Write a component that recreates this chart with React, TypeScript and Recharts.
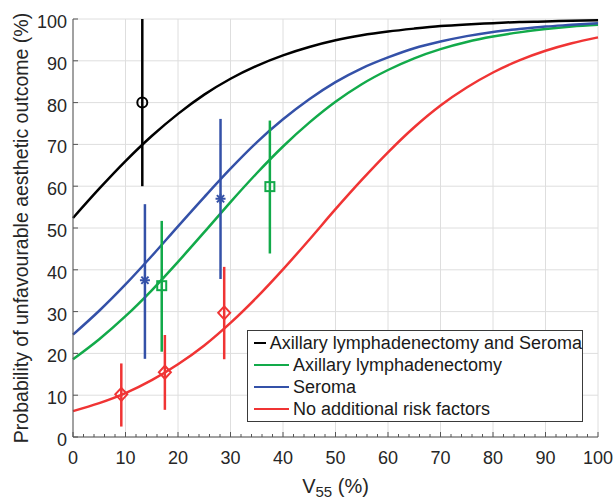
import {
  CartesianGrid,
  ComposedChart,
  ErrorBar,
  Legend,
  Line,
  Scatter,
  XAxis,
  YAxis,
} from "recharts";

// V55 (%) sample positions for the fitted curves
const xValues = [0, 5, 10, 15, 20, 25, 30, 35, 40, 45, 50, 55, 60, 65, 70, 75, 80, 85, 90, 95, 100];

// probability (%)
const blackCurve = [52.4, 59.4, 66.0, 72.0, 77.3, 81.9, 85.7, 88.8, 91.3, 93.3, 94.9, 96.1, 97.0, 97.7, 98.3, 98.7, 99.0, 99.3, 99.4, 99.6, 99.7];
const greenCurve = [18.6, 23.4, 28.9, 35.1, 41.9, 49.0, 56.2, 63.1, 69.5, 75.2, 80.2, 84.4, 87.8, 90.6, 92.8, 94.5, 95.8, 96.8, 97.6, 98.2, 98.6];
const blueCurve = [24.5, 30.2, 36.5, 43.3, 50.4, 57.4, 64.2, 70.5, 76.0, 80.8, 84.9, 88.2, 90.8, 93.0, 94.6, 95.9, 96.9, 97.6, 98.2, 98.6, 99.0];
const redCurve = [6.2, 8.1, 10.5, 13.6, 17.4, 21.9, 27.3, 33.4, 40.1, 47.2, 54.5, 61.5, 68.1, 74.1, 79.3, 83.6, 87.2, 90.1, 92.4, 94.2, 95.6];

// observed groups with [lower, upper] error
const blackPoints = [{ x: 13.2, y: 80.0, err: [20, 20] }];
const greenPoints = [
  { x: 16.9, y: 36.2, err: [15.8, 15.5] },
  { x: 37.5, y: 59.9, err: [16.0, 15.8] },
];
const bluePoints = [
  { x: 13.7, y: 37.5, err: [18.8, 18.2] },
  { x: 28.1, y: 57.0, err: [19.2, 19.1] },
];
const redPoints = [
  { x: 9.2, y: 10.2, err: [7.7, 7.4] },
  { x: 17.5, y: 15.5, err: [9.0, 8.9] },
  { x: 28.8, y: 29.7, err: [11.1, 11.0] },
];

const majorTicks = [0, 10, 20, 30, 40, 50, 60, 70, 80, 90, 100];
const minorTicks = Array.from({ length: 51 }, (_, i) => i * 2);

const legendNames = [
  "Axillary lymphadenectomy and Seroma",
  "Axillary lymphadenectomy",
  "Seroma",
  "No additional risk factors",
];

const BLACK = "#000000";
const GREEN = "#12aa4a";
const BLUE = "#3451a8";
const RED = "#f03434";
const legendColors = [BLACK, GREEN, BLUE, RED];

const AXIS = "#555555";
const TEXT = "#262626";
const FONT = '"Liberation Sans", Arial, sans-serif';

const curveData = xValues.map((x, i) => ({
  x,
  black: blackCurve[i],
  green: greenCurve[i],
  blue: blueCurve[i],
  red: redCurve[i],
}));

const BottomTick = (props: any) => {
  const { x, y, payload } = props;
  const major = payload.value % 10 === 0;
  return (
    <g>
      <line x1={x} x2={x} y1={y} y2={y - (major ? 5 : 3)} stroke={AXIS} />
      {major && (
        <text x={x} y={y + 27} textAnchor="middle" fontSize={18} fontFamily={FONT} fill={TEXT}>
          {payload.value}
        </text>
      )}
    </g>
  );
};

const TopTick = (props: any) => {
  const { x, y, payload } = props;
  const major = payload.value % 10 === 0;
  return <line x1={x} x2={x} y1={y} y2={y + (major ? 5 : 3)} stroke={AXIS} />;
};

const LeftTick = (props: any) => {
  const { x, y, payload } = props;
  return (
    <g>
      <line x1={x} x2={x + 5} y1={y} y2={y} stroke={AXIS} />
      <text x={x - 6} y={y + 9} textAnchor="end" fontSize={18} fontFamily={FONT} fill={TEXT}>
        {payload.value}
      </text>
    </g>
  );
};

const RightTick = (props: any) => {
  const { x, y } = props;
  return <line x1={x} x2={x - 5} y1={y} y2={y} stroke={AXIS} />;
};

const XLabel = (props: any) => {
  const vb = props.viewBox;
  return (
    <text x={vb.x + vb.width / 2} y={vb.y + 56} textAnchor="middle" fontSize={20} fontFamily={FONT} fill={TEXT}>
      <tspan>V</tspan>
      <tspan dy={4} fontSize={15}>55</tspan>
      <tspan dy={-4}> (%)</tspan>
    </text>
  );
};

const YLabel = (props: any) => {
  const vb = props.viewBox;
  const cx = vb.x + 28;
  const cy = vb.y + vb.height / 2;
  return (
    <text
      x={cx}
      y={cy}
      transform={`rotate(-90 ${cx} ${cy})`}
      textAnchor="middle"
      fontSize={19.5}
      fontFamily={FONT}
      fill={TEXT}
    >
      Probability of unfavourable aesthetic outcome (%)
    </text>
  );
};

const CircleMark = (p: any) => (
  <circle cx={p.cx} cy={p.cy} r={5} fill="none" stroke={BLACK} strokeWidth={2} />
);

const SquareMark = (p: any) => (
  <rect x={p.cx - 4.5} y={p.cy - 4.5} width={9} height={9} fill="none" stroke={GREEN} strokeWidth={2} />
);

const StarMark = (p: any) => {
  const r = 5;
  const d = 3.6;
  return (
    <g stroke={BLUE} strokeWidth={2}>
      <line x1={p.cx - r} x2={p.cx + r} y1={p.cy} y2={p.cy} />
      <line x1={p.cx} x2={p.cx} y1={p.cy - r} y2={p.cy + r} />
      <line x1={p.cx - d} x2={p.cx + d} y1={p.cy - d} y2={p.cy + d} />
      <line x1={p.cx - d} x2={p.cx + d} y1={p.cy + d} y2={p.cy - d} />
    </g>
  );
};

const DiamondMark = (p: any) => (
  <polygon
    points={`${p.cx},${p.cy - 6.5} ${p.cx + 6},${p.cy} ${p.cx},${p.cy + 6.5} ${p.cx - 6},${p.cy}`}
    fill="none"
    stroke={RED}
    strokeWidth={2}
  />
);

const LegendBox = () => (
  <div
    style={{
      border: "1px solid #3a3a3a",
      background: "#fff",
      padding: "1px 0",
      width: 334,
      fontFamily: FONT,
      fontSize: 18,
      color: "#1a1a1a",
    }}
  >
    {legendNames.map((name, i) => (
      <div key={name} style={{ display: "flex", alignItems: "center", height: 22 }}>
        <span
          style={{
            display: "inline-block",
            width: 35,
            height: 0,
            borderTop: `2.5px solid ${legendColors[i]}`,
            marginLeft: 6,
            marginRight: 4,
          }}
        />
        <span style={{ whiteSpace: "nowrap" }}>{name}</span>
      </div>
    ))}
  </div>
);

export default function App() {
  return (
    <div style={{ position: "absolute", left: 0, top: 0, width: 613, height: 500, background: "#fff" }}>
      <ComposedChart width={613} height={500} data={curveData} margin={{ top: 19, right: 15, bottom: 0, left: 0 }}>
        <CartesianGrid
          xAxisId="bottom"
          yAxisId="left"
          stroke="#dedede"
          verticalValues={majorTicks}
          horizontalValues={majorTicks}
        />
        <XAxis
          xAxisId="bottom"
          dataKey="x"
          type="number"
          domain={[0, 100]}
          ticks={minorTicks}
          interval={0}
          height={63}
          tickSize={0}
          tickMargin={0}
          tickLine={false}
          tick={BottomTick}
          axisLine={{ stroke: AXIS }}
          label={XLabel}
        />
        <XAxis
          xAxisId="top"
          orientation="top"
          type="number"
          domain={[0, 100]}
          ticks={minorTicks}
          interval={0}
          height={0}
          tickSize={0}
          tickMargin={0}
          tickLine={false}
          tick={TopTick}
          axisLine={{ stroke: AXIS }}
        />
        <YAxis
          yAxisId="left"
          dataKey="y"
          type="number"
          domain={[0, 100]}
          ticks={majorTicks}
          interval={0}
          width={73}
          tickSize={0}
          tickMargin={0}
          tickLine={false}
          tick={LeftTick}
          axisLine={{ stroke: AXIS }}
          label={YLabel}
        />
        <YAxis
          yAxisId="right"
          orientation="right"
          type="number"
          domain={[0, 100]}
          ticks={majorTicks}
          interval={0}
          width={0}
          tickSize={0}
          tickMargin={0}
          tickLine={false}
          tick={RightTick}
          axisLine={{ stroke: AXIS }}
        />
        <Line xAxisId="bottom" yAxisId="left" type="monotone" dataKey="black" stroke={BLACK} strokeWidth={2.5} dot={false} isAnimationActive={false} />
        <Line xAxisId="bottom" yAxisId="left" type="monotone" dataKey="green" stroke={GREEN} strokeWidth={2.5} dot={false} isAnimationActive={false} />
        <Line xAxisId="bottom" yAxisId="left" type="monotone" dataKey="blue" stroke={BLUE} strokeWidth={2.5} dot={false} isAnimationActive={false} />
        <Line xAxisId="bottom" yAxisId="left" type="monotone" dataKey="red" stroke={RED} strokeWidth={2.5} dot={false} isAnimationActive={false} />
        <Scatter xAxisId="bottom" yAxisId="left" data={blackPoints} shape={CircleMark} isAnimationActive={false}>
          <ErrorBar dataKey="err" direction="y" width={0} stroke={BLACK} strokeWidth={2.5} isAnimationActive={false} />
        </Scatter>
        <Scatter xAxisId="bottom" yAxisId="left" data={greenPoints} shape={SquareMark} isAnimationActive={false}>
          <ErrorBar dataKey="err" direction="y" width={0} stroke={GREEN} strokeWidth={2.5} isAnimationActive={false} />
        </Scatter>
        <Scatter xAxisId="bottom" yAxisId="left" data={bluePoints} shape={StarMark} isAnimationActive={false}>
          <ErrorBar dataKey="err" direction="y" width={0} stroke={BLUE} strokeWidth={2.5} isAnimationActive={false} />
        </Scatter>
        <Scatter xAxisId="bottom" yAxisId="left" data={redPoints} shape={DiamondMark} isAnimationActive={false}>
          <ErrorBar dataKey="err" direction="y" width={0} stroke={RED} strokeWidth={2.5} isAnimationActive={false} />
        </Scatter>
        <Legend
          layout="vertical"
          align="center"
          verticalAlign="middle"
          content={LegendBox}
          wrapperStyle={{ left: 247, top: 330, width: 336 }}
        />
      </ComposedChart>
    </div>
  );
}
